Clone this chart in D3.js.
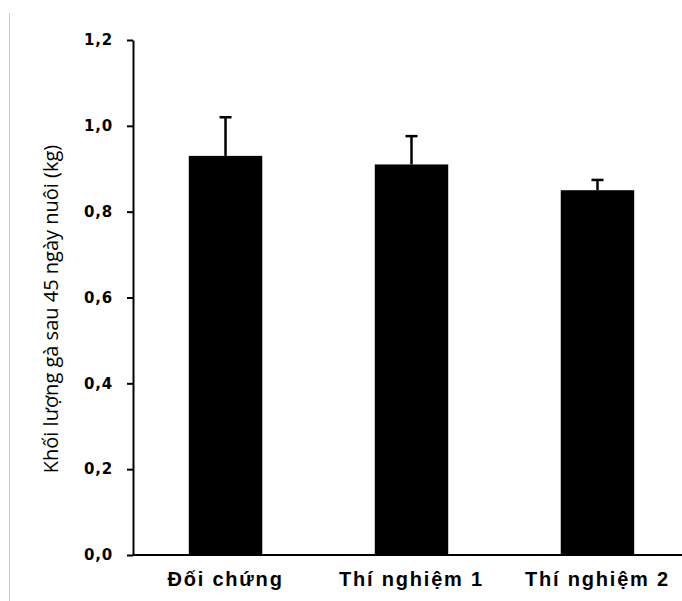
<!DOCTYPE html>
<html>
<head>
<meta charset="utf-8">
<script src="https://cdn.jsdelivr.net/npm/d3@7"></script>
<style>
  body { margin: 0; background: #fff; }
  svg { display: block; }
</style>
</head>
<body>
<div id="chart"></div>
<script>
// data
var groups = ["Đối chứng", "Thí nghiệm 1", "Thí nghiệm 2"];
var means = [0.930, 0.910, 0.850];
var errs = [0.090, 0.066, 0.024];
var yTicks = [0, 0.2, 0.4, 0.6, 0.8, 1.0, 1.2];

var width = 682,
    height = 601;

var svg = d3.select("#chart").append("svg")
    .attr("width", width)
    .attr("height", height);

// thin grey frame edge on the left
svg.append("line")
    .attr("x1", 9.5).attr("x2", 9.5)
    .attr("y1", 13).attr("y2", height)
    .style("stroke", "#c8c8c8")
    .style("stroke-width", 1);

var x = d3.scaleBand()
    .domain(groups)
    .range([133, 690])
    .paddingInner(0.605)
    .paddingOuter(0.3);

var y = d3.scaleLinear()
    .domain([0, 1.2])
    .range([555, 40]);

var fmt = function(d) { return d3.format(".1f")(d).replace(".", ","); };

// bars
svg.append("g")
    .selectAll("rect")
    .data(groups)
    .enter()
    .append("rect")
    .attr("x", function(d) { return x(d); })
    .attr("y", function(d, i) { return y(means[i]); })
    .attr("width", x.bandwidth())
    .attr("height", function(d, i) { return y(0) - y(means[i]); })
    .style("fill", "#000");

// error bars (upper only)
var eb = svg.append("g");
eb.selectAll("line.stem")
    .data(groups)
    .enter()
    .append("line")
    .attr("class", "stem")
    .attr("x1", function(d) { return x(d) + x.bandwidth() / 2; })
    .attr("x2", function(d) { return x(d) + x.bandwidth() / 2; })
    .attr("y1", function(d, i) { return y(means[i]); })
    .attr("y2", function(d, i) { return y(means[i] + errs[i]); })
    .style("stroke", "#000")
    .style("stroke-width", 2.5);
eb.selectAll("line.cap")
    .data(groups)
    .enter()
    .append("line")
    .attr("class", "cap")
    .attr("x1", function(d) { return x(d) + x.bandwidth() / 2 - 6; })
    .attr("x2", function(d) { return x(d) + x.bandwidth() / 2 + 6; })
    .attr("y1", function(d, i) { return y(means[i] + errs[i]); })
    .attr("y2", function(d, i) { return y(means[i] + errs[i]); })
    .style("stroke", "#000")
    .style("stroke-width", 2.5);

// y axis
var yAxis = svg.append("g")
    .attr("transform", "translate(133,0)")
    .call(d3.axisLeft(y).tickValues(yTicks).tickFormat(fmt).tickSize(6).tickPadding(14).tickSizeOuter(0));
yAxis.select(".domain").style("stroke", "#000").style("stroke-width", 2);
yAxis.selectAll(".tick line").style("stroke", "#000").style("stroke-width", 2);
yAxis.selectAll(".tick text")
    .style("font-family", "'DejaVu Sans', sans-serif")
    .style("font-weight", "bold")
    .style("font-size", "15px")
    .style("letter-spacing", "0.8px")
    .style("fill", "#000");

// x axis
var xAxis = svg.append("g")
    .attr("transform", "translate(0,555)")
    .call(d3.axisBottom(x).tickSize(0).tickPadding(17));
xAxis.select(".domain")
    .attr("d", "M133,0H" + width)
    .style("stroke", "#000")
    .style("stroke-width", 2);
xAxis.selectAll(".tick text")
    .attr("dy", "0.71em")
    .style("font-family", "'Liberation Sans', Arial, sans-serif")
    .style("font-weight", "bold")
    .style("font-size", "20px")
    .style("letter-spacing", "1.8px")
    .style("fill", "#000");

// y title
svg.append("text")
    .attr("transform", "translate(58,309) rotate(-90)")
    .attr("text-anchor", "middle")
    .style("font-family", "'Open Sans', sans-serif")
    .style("font-size", "20px")
    .style("fill", "#000")
    .text("Khối lượng gà sau 45 ngày nuôi (kg)");
</script>
</body>
</html>
